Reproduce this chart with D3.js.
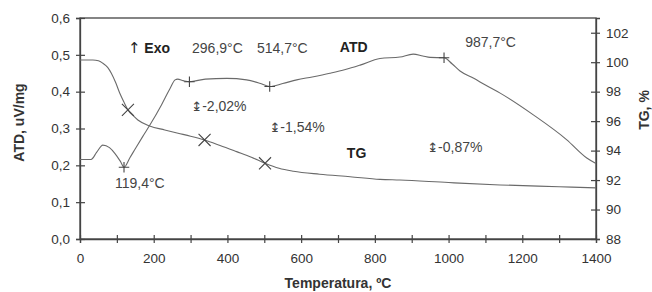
<!DOCTYPE html>
<html>
<head>
<meta charset="utf-8">
<script src="https://cdn.jsdelivr.net/npm/d3@7"></script>
<style>
body{margin:0;background:#fff;}
text{font-family:"Liberation Sans",Arial,sans-serif;}
</style>
</head>
<body>
<div class="div1"></div>
<script>
// temperatura (ºC) / ATD (uV/mg)
const atdTemp=[0,30,45,62,80,95,110,119.4,135,150,170,190,221,245,258,265,280,296.9,340,398,452,490,514.7,550,588,630,678,720,760,814,868,904,930,950,987.7,1010,1031,1067,1100,1140,1230,1320,1375,1400];
const atdVal=[0.216,0.216,0.235,0.255,0.248,0.232,0.21,0.195,0.22,0.245,0.278,0.31,0.364,0.41,0.432,0.434,0.43,0.427,0.434,0.436,0.432,0.422,0.414,0.422,0.432,0.44,0.45,0.46,0.472,0.49,0.494,0.502,0.497,0.493,0.492,0.475,0.456,0.437,0.418,0.396,0.337,0.27,0.22,0.205];
// temperatura (ºC) / TG (%)
const tgTemp=[0,35,50,62,75,85,97,108,120,130,145,157,189,230,266,300,338,380,425,465,502,540,579,650,733,814,868,1000,1140,1300,1400];
const tgVal=[100.15,100.15,100.1,99.93,99.65,99.25,98.6,97.89,97.25,96.76,96.35,96.08,95.67,95.4,95.18,94.98,94.72,94.35,93.93,93.55,93.14,92.8,92.6,92.4,92.23,92.05,92.0,91.83,91.67,91.55,91.47];
// marcadores
const atdMarkT=[119.4,296.9,514.7,987.7];
const atdMarkV=[0.195,0.427,0.414,0.492];
const tgMarkT=[130,338,502];
const tgMarkV=[96.76,94.72,93.14];
// ticks
const xTicks=[0,200,400,600,800,1000,1200,1400];
const xMinor=[0,100,200,300,400,500,600,700,800,900,1000,1100,1200,1300,1400];
const yLeftTicks=[0,0.1,0.2,0.3,0.4,0.5,0.6];
const yRightTicks=[88,90,92,94,96,98,100,102];
// textos (temp, ATD), a = flecha delante
const notes=[
  {a:"↑",t:" Exo",x:130,y:0.505,b:true},
  {a:"",t:"296,9°C",x:304,y:0.505,b:false},
  {a:"",t:"514,7°C",x:480,y:0.505,b:false},
  {a:"",t:"ATD",x:705,y:0.508,b:true},
  {a:"",t:"987,7°C",x:1045,y:0.521,b:false},
  {a:"",t:"119,4°C",x:95,y:0.138,b:false},
  {a:"↨",t:"-2,02%",x:302,y:0.348,b:false},
  {a:"↨",t:"-1,54%",x:514,y:0.29,b:false},
  {a:"",t:"TG",x:724,y:0.22,b:true},
  {a:"↨",t:"-0,87%",x:942,y:0.236,b:false}
];

function chart(){
  let margin={top:18,right:56,bottom:53,left:80};
  let width=652-margin.left-margin.right;
  let height=292-margin.top-margin.bottom;

  const svg=d3.select(".div1").append("svg")
    .attr("width",652).attr("height",292);
  let g=svg.append("g").attr("transform","translate("+margin.left+","+margin.top+")");

  let x=d3.scaleLinear().domain([0,1400]).range([0,width]);
  let y=d3.scaleLinear().domain([0,0.6]).range([height,0]);
  let y2=d3.scaleLinear().domain([88,103]).range([height,0]);

  const axisCol="#444", txtCol="#333";

  // marco
  g.append("rect").attr("width",width).attr("height",height)
    .attr("fill","none").attr("stroke",axisCol).attr("stroke-width",1.3);

  let left=g.append("g").call(d3.axisLeft(y).tickValues(yLeftTicks).tickSize(4).tickPadding(6)
    .tickFormat(d=>d3.format(".1f")(d).replace(".",",")));
  let bottom=g.append("g").attr("transform","translate(0,"+height+")")
    .call(d3.axisBottom(x).tickValues(xMinor).tickSize(4).tickPadding(10)
    .tickFormat(d=>xTicks.includes(d)?d:""));
  let right=g.append("g").attr("transform","translate("+width+",0)")
    .call(d3.axisRight(y2).tickValues(yRightTicks).tickSize(4).tickPadding(6));

  [left,bottom,right].forEach(a=>{
    a.select(".domain").attr("stroke",axisCol).attr("stroke-width",1.3);
    a.selectAll(".tick line").attr("stroke",axisCol).attr("stroke-width",1.2);
    a.selectAll(".tick text").attr("fill",txtCol).attr("font-size","13.5px")
      .attr("font-family","Liberation Sans, Arial, sans-serif");
  });
  // ticks cruzados
  left.selectAll(".tick line").attr("x1",5).attr("x2",-4);
  right.selectAll(".tick line").attr("x1",-5).attr("x2",4);
  bottom.selectAll(".tick line").attr("y1",-4).attr("y2",4);

  // titulos
  g.append("text").attr("x",width/2).attr("y",height+49).attr("text-anchor","middle")
    .attr("font-size","14px").attr("font-weight","bold").attr("fill","#333").text("Temperatura, ºC");
  g.append("text").attr("transform","translate(-56,"+(height/2-6)+") rotate(-90)")
    .attr("text-anchor","middle").attr("font-size","14px").attr("font-weight","bold")
    .attr("fill","#333").text("ATD, uV/mg");
  g.append("text").attr("transform","translate("+(width+53)+","+(92)+") rotate(-90)")
    .attr("text-anchor","middle").attr("font-size","14px").attr("font-weight","bold")
    .attr("fill","#333").text("TG, %");

  const lineCol="#6a6a6a";
  let atdLine=d3.line().x((d,i)=>x(atdTemp[i])).y(d=>y(d)).curve(d3.curveMonotoneX);
  let tgLine=d3.line().x((d,i)=>x(tgTemp[i])).y(d=>y2(d)).curve(d3.curveMonotoneX);
  g.append("path").attr("d",atdLine(atdVal)).attr("fill","none").attr("stroke",lineCol).attr("stroke-width",1.1);
  g.append("path").attr("d",tgLine(tgVal)).attr("fill","none").attr("stroke",lineCol).attr("stroke-width",1.1);

  g.selectAll(null).data(atdMarkV).enter().append("path")
    .attr("d",d3.symbol(d3.symbolPlus,38))
    .attr("transform",(d,i)=>"translate("+x(atdMarkT[i])+","+y(d)+")")
    .attr("fill","none").attr("stroke","#444").attr("stroke-width",1.1);
  g.selectAll(null).data(tgMarkV).enter().append("path")
    .attr("d",d3.symbol(d3.symbolX,96))
    .attr("transform",(d,i)=>"translate("+x(tgMarkT[i])+","+y2(d)+")")
    .attr("fill","none").attr("stroke","#444").attr("stroke-width",1.1);

  let nt=g.selectAll(null).data(notes).enter().append("text")
    .attr("x",d=>x(d.x)).attr("y",d=>y(d.y))
    .attr("font-size","14px").attr("fill",d=>d.b?"#222":"#444");
  nt.filter(d=>d.a).append("tspan")
    .attr("font-family","DejaVu Sans, sans-serif").attr("font-size",d=>d.a=="↑"?"15px":"13px")
    .attr("font-weight","normal").text(d=>d.a);
  nt.append("tspan").attr("font-weight",d=>d.b?"bold":"normal").text(d=>d.t);
}
chart();
</script>
</body>
</html>
